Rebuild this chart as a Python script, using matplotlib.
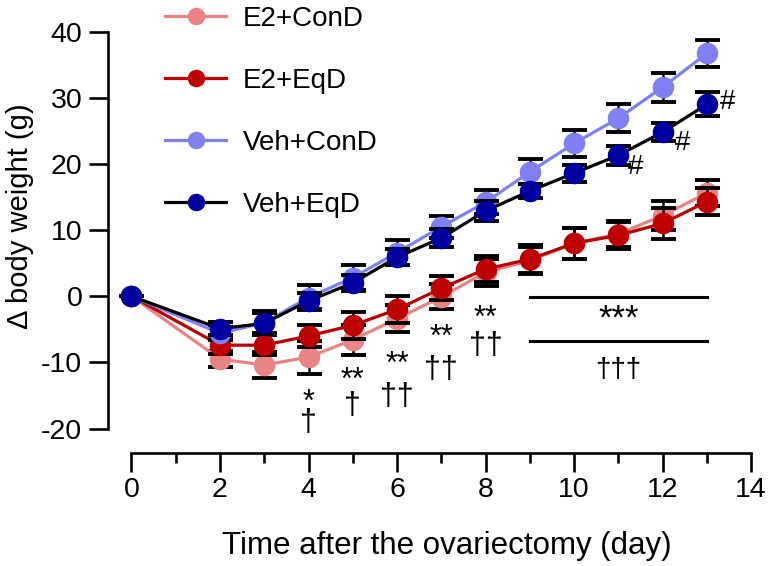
import matplotlib
matplotlib.use("Agg")
import matplotlib.pyplot as plt

plt.rcParams["font.family"] = ["Liberation Sans", "DejaVu Sans"]
plt.rcParams["axes.unicode_minus"] = False

# day after ovariectomy
days = [0, 2, 3, 4, 5, 6, 7, 8, 9, 10, 11, 12, 13]

# mean change of body weight (g) and SEM
e2_cond = [0, -9.5, -10.4, -9.2, -6.6, -3.4, -0.1, 3.6, 5.4, 8.0, 9.4, 12.2, 15.6]
e2_cond_sem = [0, 1.2, 2.0, 2.5, 2.3, 2.0, 1.9, 2.0, 2.1, 2.3, 2.0, 2.2, 2.0]
e2_eqd = [0, -7.4, -7.4, -6.0, -4.4, -2.0, 1.2, 4.1, 5.6, 8.0, 9.2, 11.0, 14.3]
e2_eqd_sem = [0, 1.3, 1.5, 1.7, 2.0, 2.0, 1.8, 2.0, 2.1, 2.3, 2.0, 2.3, 2.0]
veh_cond = [0, -5.6, -4.0, -0.2, 2.8, 6.6, 10.5, 14.2, 18.8, 23.1, 26.9, 31.6, 36.7]
veh_cond_sem = [0, 1.0, 1.7, 1.9, 1.9, 1.9, 1.7, 1.8, 1.9, 2.0, 2.1, 2.2, 2.1]
veh_eqd = [0, -4.9, -4.1, -0.7, 2.0, 5.9, 8.8, 12.9, 15.9, 18.6, 21.3, 24.8, 29.0]
veh_eqd_sem = [0, 1.0, 1.5, 1.2, 1.2, 1.2, 1.3, 1.5, 1.0, 1.3, 1.4, 1.4, 1.8]

# significance marks below the curves (days 4-8), y = centre of the glyph
sig_days = [4, 5, 6, 7, 8]
star_labels = ["*", "**", "**", "**", "**"]
star_y = [-15.3, -12.0, -9.7, -5.6, -2.6]
dagger_labels = ["\u2020", "\u2020", "\u2020\u2020", "\u2020\u2020", "\u2020\u2020"]
dagger_y = [-18.5, -16.0, -14.7, -10.5, -7.0]

# days 9-13 bracket
span_days = [9, 13]
span_line_y = [-0.1, -6.8]
span_star_y = -2.6
span_dagger_y = -10.5

# '#' next to Veh+EqD
hash_days = [11, 12, 13]

series = [
    ("E2+ConD", e2_cond, e2_cond_sem, "#E88484", "#E88484"),
    ("E2+EqD", e2_eqd, e2_eqd_sem, "#B80000", "#BE0000"),
    ("Veh+ConD", veh_cond, veh_cond_sem, "#8080F4", "#8080F4"),
    ("Veh+EqD", veh_eqd, veh_eqd_sem, "black", "#0000A0"),
]

fig = plt.figure(figsize=(7.7, 5.66), dpi=100)
ax = fig.add_axes([0.14026, 0.19965, 0.84675, 0.75618])
ax.set_xlim(-0.53, 14.2)
ax.set_ylim(-23.7, 41)

handles = []
labels = []
for i, (name, mean, sem, lc, mc) in enumerate(series):
    eb = ax.errorbar(days, mean, yerr=sem, color=lc, marker="o", markersize=14.5,
                     mfc=mc, mec=mc, linewidth=2.3, ecolor="black",
                     elinewidth=1.8, capsize=9, capthick=2.8, zorder=3 + i)
    handles.append(eb[0])
    labels.append(name)

# star over dagger as one two-line text; line spacing set so the glyph
# centres land where they are in the figure.  Rough Arial-like metrics:
# asterisk centre ~0.565 em above baseline, dagger ~0.39 em, cap ~0.716 em.
# va="baseline" on multi-line text pins the last line (the dagger).
SIG_FS = 22
em = SIG_FS * fig.dpi / 72
px_per_unit = ax.transData.transform((0, 1))[1] - ax.transData.transform((0, 0))[1]
for d, s, t, ys, yt in zip(sig_days, star_labels, dagger_labels, star_y, dagger_y):
    gap = (ys - yt) * px_per_unit
    spacing = (gap - 0.305 * em) / (0.716 * em)
    base = yt - 0.39 * em / px_per_unit
    ax.text(d, base, s + "\n" + t, ha="center", va="baseline", fontsize=SIG_FS,
            linespacing=spacing, multialignment="center")

for yl in span_line_y:
    ax.plot(span_days, [yl, yl], color="black", lw=2.2)
mid = sum(span_days) / 2
ax.text(mid, span_star_y - 0.9, "***", ha="center", va="center", fontsize=25)
ax.text(mid, span_dagger_y - 0.6, "\u2020\u2020\u2020", ha="center",
        va="center", fontsize=20)

hash_offsets = [(0.38, -1.8), (0.44, -1.7), (0.47, 0.3)]
for d, (dx, dy) in zip(hash_days, hash_offsets):
    y = veh_eqd[days.index(d)]
    ax.text(d + dx, y + dy, "#", ha="center", va="center", fontsize=20)

for side in ("top", "right"):
    ax.spines[side].set_visible(False)
ax.spines["left"].set_bounds(-20, 40)
ax.spines["bottom"].set_bounds(0, 14)
for side in ("left", "bottom"):
    ax.spines[side].set_linewidth(1.9)

ax.set_xticks(range(0, 15, 2))
ax.set_xticks(range(1, 14, 2), minor=True)
ax.set_yticks(range(-20, 41, 10))
ax.tick_params(axis="both", which="major", direction="out", length=13.5, width=1.9)
ax.tick_params(axis="x", which="minor", direction="out", length=7, width=1.9)
ax.tick_params(axis="y", labelsize=20.5, pad=5)
ax.tick_params(axis="x", labelsize=20.5, pad=4)

ax.set_xlabel("Time after the ovariectomy (day)", fontsize=22.5)
ax.xaxis.set_label_coords(0.52, -0.182)
ax.set_ylabel("\u0394 body weight (g)", fontsize=21)
ax.yaxis.set_label_coords(-0.1135, 0.554)

ax.legend(handles, labels, loc="upper left", frameon=False, fontsize=20,
          bbox_to_anchor=(165 / 770, 1 - 6 / 566), bbox_transform=fig.transFigure,
          borderpad=0, borderaxespad=0, handlelength=2.2, handletextpad=0.6,
          labelspacing=1.29, markerscale=0.8)

fig.savefig("out.png", dpi=100)
